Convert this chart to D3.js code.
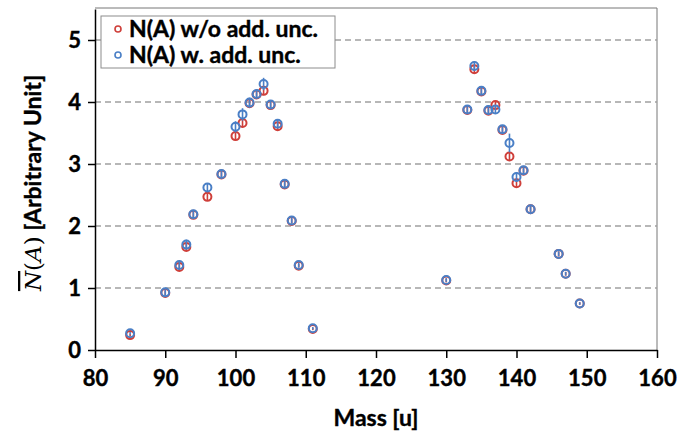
<!DOCTYPE html>
<html>
<head>
<meta charset="utf-8">
<script src="https://cdn.jsdelivr.net/npm/d3@7"></script>
<style>
  body { margin: 0; background: #fff; }
  text { font-family: Lato, "Open Sans", sans-serif; font-weight: bold; fill: #000; }
  .heavy { stroke: #000; stroke-width: 0.4px; }
</style>
</head>
<body>
<svg id="chart" width="695" height="433"></svg>
<script>

// masses in u
var masses = [85, 90, 92, 93, 94, 96, 98, 100, 101, 102, 103, 104, 105, 106, 107, 108, 109, 111,
              130, 133, 134, 135, 136, 137, 138, 139, 140, 141, 142, 146, 147, 149];

// N(A) without additional uncertainty
var nWo = [0.24, 0.92, 1.34, 1.66, 2.18, 2.47, 2.83, 3.45, 3.66, 3.98, 4.12, 4.18, 3.95, 3.61, 2.67, 2.08, 1.36, 0.34,
           1.12, 3.87, 4.53, 4.17, 3.86, 3.95, 3.55, 3.12, 2.69, 2.89, 2.27, 1.55, 1.23, 0.75];
var errWo = [0.02, 0.04, 0.05, 0.06, 0.06, 0.06, 0.06, 0.07, 0.07, 0.07, 0.06, 0.07, 0.06, 0.06, 0.05, 0.04, 0.03, 0.02,
             0.03, 0.05, 0.07, 0.06, 0.06, 0.06, 0.06, 0.06, 0.06, 0.05, 0.05, 0.04, 0.03, 0.02];

// N(A) with additional uncertainty
var nW = [0.27, 0.93, 1.37, 1.70, 2.19, 2.62, 2.84, 3.60, 3.80, 3.99, 4.13, 4.29, 3.96, 3.65, 2.68, 2.09, 1.37, 0.35,
          1.13, 3.88, 4.58, 4.18, 3.87, 3.88, 3.56, 3.34, 2.79, 2.90, 2.27, 1.55, 1.23, 0.75];
var errW = [0.02, 0.05, 0.07, 0.08, 0.07, 0.07, 0.07, 0.09, 0.10, 0.08, 0.07, 0.10, 0.07, 0.07, 0.05, 0.05, 0.04, 0.02,
            0.03, 0.06, 0.08, 0.06, 0.08, 0.07, 0.07, 0.15, 0.08, 0.06, 0.05, 0.04, 0.03, 0.02];

var xTicks = [80, 90, 100, 110, 120, 130, 140, 150, 160];
var yTicks = [0, 1, 2, 3, 4, 5];
var gridVals = [1, 2, 3, 4, 5];

var seriesNames = ["N(A) w/o add. unc.", "N(A) w. add. unc."];
var colors = ["#cf3f3a", "#4a7fc6"];

var svg = d3.select("#chart");
var pLeft = 95, pRight = 657, pTop = 8, pBottom = 350;

var x = d3.scaleLinear().domain([80, 160]).range([pLeft, pRight]);
var y = d3.scaleLinear().domain([0, 5.5]).range([pBottom, pTop + 1]);

svg.append("rect").attr("width", 695).attr("height", 433).attr("fill", "#fff");

// frame top/right
svg.append("path")
  .attr("d", "M" + pLeft + "," + pTop + "H" + pRight + "V" + pBottom)
  .attr("fill", "none").attr("stroke", "#777").attr("stroke-width", 1);

// dashed grid
svg.selectAll("line.grid")
  .data(gridVals)
  .enter().append("line")
  .attr("class", "grid")
  .attr("x1", pLeft).attr("x2", pRight)
  .attr("y1", function(d) { return y(d); })
  .attr("y2", function(d) { return y(d); })
  .attr("stroke", "#a0a0a0")
  .attr("stroke-width", 1.5)
  .attr("stroke-dasharray", "6,4");

// axes
var xAxis = svg.append("g")
  .attr("transform", "translate(0," + pBottom + ")")
  .call(d3.axisBottom(x).tickValues(xTicks).tickSize(8).tickSizeOuter(0).tickFormat(d3.format("d")));
xAxis.selectAll("text").attr("y", 20).attr("font-size", "22px");

var yAxis = svg.append("g")
  .attr("transform", "translate(" + pLeft + ",0)")
  .call(d3.axisLeft(y).tickValues(yTicks).tickSize(7).tickSizeOuter(0).tickFormat(d3.format("d")));
yAxis.selectAll("text").attr("x", -14).attr("font-size", "22px");

svg.selectAll(".domain, .tick line").attr("stroke", "#000").attr("stroke-width", 1.5);
svg.selectAll(".tick text").attr("fill", "#000").attr("class", "heavy")
  .style("font-family", "Lato, sans-serif").style("font-weight", "bold");

// series
function drawSeries(vals, errs, color) {
  var g = svg.append("g");
  var pts = masses.map(function(m, i) { return {m: m, v: vals[i], e: errs[i]}; });
  g.selectAll("line")
    .data(pts)
    .enter().append("line")
    .attr("x1", function(d) { return x(d.m); })
    .attr("x2", function(d) { return x(d.m); })
    .attr("y1", function(d) { return y(d.v - d.e); })
    .attr("y2", function(d) { return y(d.v + d.e); })
    .attr("stroke", color).attr("stroke-width", 1.6);
  g.selectAll("circle")
    .data(pts)
    .enter().append("circle")
    .attr("cx", function(d) { return x(d.m); })
    .attr("cy", function(d) { return y(d.v); })
    .attr("r", 4)
    .attr("fill", "none")
    .attr("stroke", color).attr("stroke-width", 2);
}
drawSeries(nWo, errWo, colors[0]);
drawSeries(nW, errW, colors[1]);

// legend
var lg = svg.append("g");
lg.append("rect")
  .attr("x", 101).attr("y", 16).attr("width", 234).attr("height", 52)
  .attr("fill", "#fff").attr("stroke", "#8c8c8c").attr("stroke-width", 1);
seriesNames.forEach(function(name, i) {
  var cy = 29 + i * 26;
  lg.append("circle").attr("cx", 118).attr("cy", cy).attr("r", 3)
    .attr("fill", "none").attr("stroke", colors[i]).attr("stroke-width", 1.6);
  lg.append("text").attr("class", "heavy").attr("x", 129).attr("y", cy + 8).attr("font-size", "23px").text(name);
});

// axis titles
svg.append("text").attr("class", "heavy")
  .attr("x", (pLeft + pRight) / 2).attr("y", 426)
  .attr("text-anchor", "middle").attr("font-size", "23px")
  .text("Mass [u]");

var yt = svg.append("text")
  .attr("transform", "translate(41,183) rotate(-90)")
  .attr("text-anchor", "middle").attr("font-size", "23px");
yt.append("tspan")
  .style("font-family", "'DejaVu Serif', serif").style("font-weight", "normal").style("font-style", "italic")
  .style("text-decoration", "overline")
  .text("N");
yt.append("tspan")
  .style("font-family", "'DejaVu Serif', serif").style("font-weight", "normal")
  .text("(");
yt.append("tspan")
  .style("font-family", "'DejaVu Serif', serif").style("font-weight", "normal").style("font-style", "italic")
  .text("A");
yt.append("tspan")
  .style("font-family", "'DejaVu Serif', serif").style("font-weight", "normal")
  .text(")");
yt.append("tspan").attr("class", "heavy").text(" [Arbitrary Unit]");

</script>
</body>
</html>
